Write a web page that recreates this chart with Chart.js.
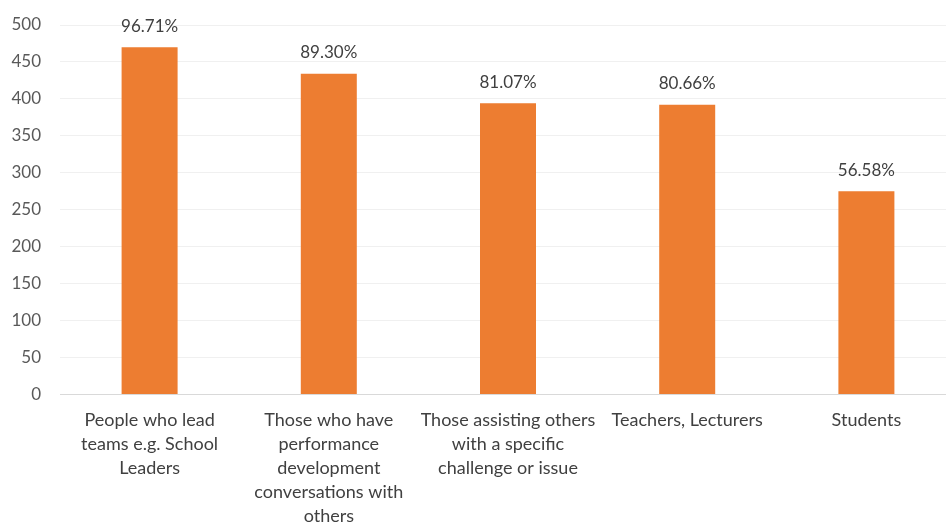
<!DOCTYPE html>
<html>
<head>
<meta charset="utf-8">
<script src="https://cdn.jsdelivr.net/npm/chart.js@4/dist/chart.umd.min.js"></script>
<style>
  html, body { margin: 0; padding: 0; background: #ffffff; overflow: hidden; }
  #wrap { position: relative; width: 956px; height: 522px; }
</style>
</head>
<body>
<div id="wrap"><canvas id="chart"></canvas></div>
<script>
// Respondent groups (multi-line category labels)
const categories = [
  ["People who lead", "teams e.g. School", "Leaders"],
  ["Those who have", "performance", "development", "conversations with", "others"],
  ["Those assisting others", "with a specific", "challenge or issue"],
  ["Teachers, Lecturers"],
  ["Students"]
];
// Number of respondents per group, and total respondents
const counts = [470, 434, 394, 392, 275];
const totalRespondents = 486;
// Y axis ticks
const yTicks = [0, 50, 100, 150, 200, 250, 300, 350, 400, 450, 500];

const FONT = "Lato, 'Open Sans', 'Liberation Sans', sans-serif";

// Percentage labels drawn above each bar
const percentLabels = {
  id: 'percentLabels',
  afterDatasetsDraw(chart) {
    const ctx = chart.ctx;
    const meta = chart.getDatasetMeta(0);
    ctx.save();
    ctx.font = "17px " + FONT;
    ctx.fillStyle = "#404040";
    ctx.textAlign = "center";
    ctx.textBaseline = "middle";
    meta.data.forEach((bar, i) => {
      const pct = (counts[i] / totalRespondents * 100).toFixed(2) + "%";
      ctx.fillText(pct, bar.x, bar.y - 21);
    });
    ctx.restore();
  }
};

new Chart(document.getElementById('chart'), {
  type: 'bar',
  data: {
    labels: categories,
    datasets: [{
      data: counts,
      backgroundColor: '#ED7D31',
      borderWidth: 0,
      categoryPercentage: 1,
      barPercentage: 0.3125
    }]
  },
  options: {
    responsive: true,
    maintainAspectRatio: false,
    animation: false,
    layout: { padding: { top: 25, right: 0, bottom: 0, left: 0 } },
    plugins: { legend: { display: false }, tooltip: { enabled: false } },
    scales: {
      x: {
        grid: { display: false, drawTicks: false },
        border: { display: false },
        ticks: {
          color: '#404040',
          font: { family: FONT, size: 18, lineHeight: 1.333 },
          padding: 14,
          maxRotation: 0,
          autoSkip: false
        },
        afterFit(scale) { scale.height = 127.5; }
      },
      y: {
        min: 0,
        max: 500,
        afterBuildTicks(scale) { scale.ticks = yTicks.map(v => ({ value: v })); },
        grid: {
          drawTicks: true,
          tickLength: 19,
          tickColor: 'rgba(0,0,0,0)',
          color: ctx => (ctx.tick && ctx.tick.value === 0) ? '#d9d9d9' : '#f0f0f0',
          lineWidth: 1
        },
        border: { display: false },
        ticks: {
          color: '#595959',
          font: { family: FONT, size: 17 },
          padding: 0
        },
        afterFit(scale) { scale.width = 60; }
      }
    }
  },
  plugins: [percentLabels]
});
</script>
</body>
</html>
